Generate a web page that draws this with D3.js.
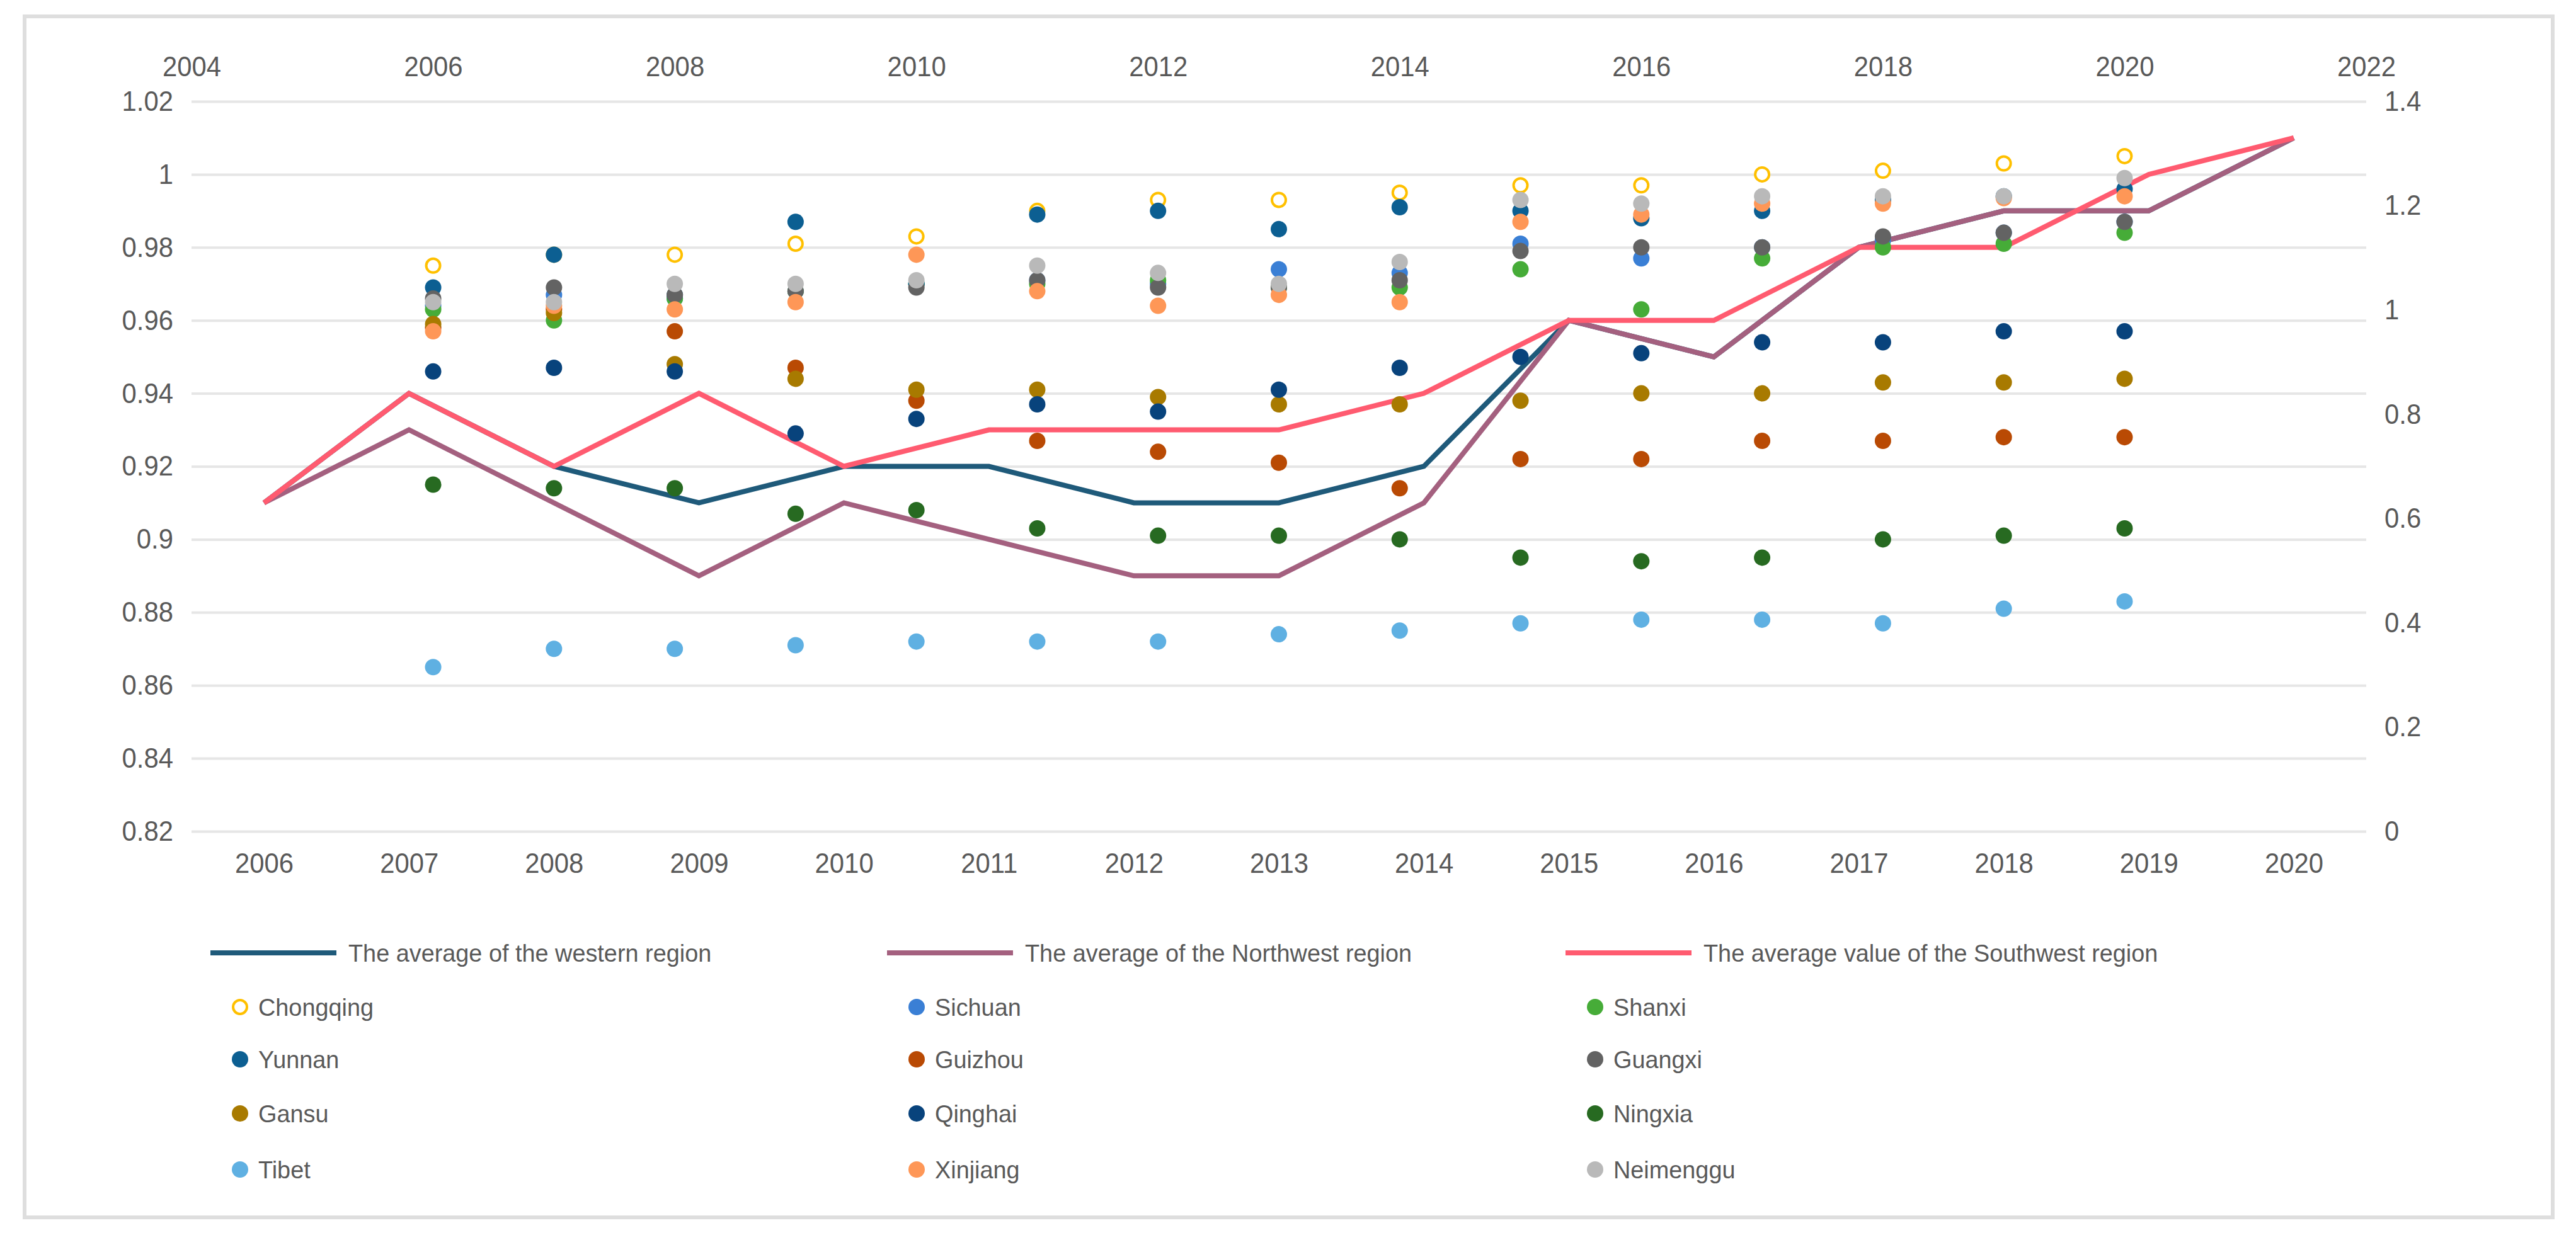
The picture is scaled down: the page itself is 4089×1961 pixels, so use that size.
<!DOCTYPE html>
<html>
<head>
<meta charset="utf-8">
<script src="https://cdn.jsdelivr.net/npm/d3@7/dist/d3.min.js"></script>
<style>
  body { margin: 0; background: #fff; }
  text { font-family: "Liberation Sans", Arial, sans-serif; fill: #595959; }
</style>
</head>
<body>
<div id="viz"></div>
<script>
// categories (bottom axis) and scatter years (top axis)
var years = [2006, 2007, 2008, 2009, 2010, 2011, 2012, 2013, 2014, 2015, 2016, 2017, 2018, 2019, 2020];
var leftTicks = [0.82, 0.84, 0.86, 0.88, 0.9, 0.92, 0.94, 0.96, 0.98, 1, 1.02];
var rightTicks = [0, 0.2, 0.4, 0.6, 0.8, 1, 1.2, 1.4];
var topTicks = [2004, 2006, 2008, 2010, 2012, 2014, 2016, 2018, 2020, 2022];

// regional averages (lines, left axis)
var westernAvg   = [0.91, 0.94, 0.92, 0.91, 0.92, 0.92, 0.91, 0.91, 0.92, 0.96, 0.95, 0.98, 0.99, 0.99, 1.01];
var northwestAvg = [0.91, 0.93, 0.91, 0.89, 0.91, 0.90, 0.89, 0.89, 0.91, 0.96, 0.95, 0.98, 0.99, 0.99, 1.01];
var southwestAvg = [0.91, 0.94, 0.92, 0.94, 0.92, 0.93, 0.93, 0.93, 0.94, 0.96, 0.96, 0.98, 0.98, 1.00, 1.01];

// provinces (scatter)
var chongqing = [0.975, 0.978, 0.978, 0.981, 0.983, 0.990, 0.993, 0.993, 0.995, 0.997, 0.997, 1.000, 1.001, 1.003, 1.005];
var sichuan   = [0.964, 0.967, 0.966, 0.968, 0.970, 0.971, 0.970, 0.974, 0.973, 0.981, 0.977, 0.980, 0.982, 0.984, 0.987];
var shanxi    = [0.963, 0.960, 0.966, 0.968, 0.970, 0.970, 0.971, 0.969, 0.969, 0.974, 0.963, 0.977, 0.980, 0.981, 0.984];
var yunnan    = [0.969, 0.978, 0.967, 0.987, 0.970, 0.989, 0.990, 0.985, 0.991, 0.990, 0.988, 0.990, 0.993, 0.994, 0.996];
var guizhou   = [0.958, 0.963, 0.957, 0.947, 0.938, 0.927, 0.924, 0.921, 0.914, 0.922, 0.922, 0.927, 0.927, 0.928, 0.928];
var guangxi   = [0.966, 0.969, 0.967, 0.968, 0.969, 0.971, 0.969, 0.969, 0.971, 0.979, 0.980, 0.980, 0.983, 0.984, 0.987];
var gansu     = [0.959, 0.962, 0.948, 0.944, 0.941, 0.941, 0.939, 0.937, 0.937, 0.938, 0.940, 0.940, 0.943, 0.943, 0.944];
var qinghai   = [0.946, 0.947, 0.946, 0.929, 0.933, 0.937, 0.935, 0.941, 0.947, 0.950, 0.951, 0.954, 0.954, 0.957, 0.957];
var ningxia   = [0.915, 0.914, 0.914, 0.907, 0.908, 0.903, 0.901, 0.901, 0.900, 0.895, 0.894, 0.895, 0.900, 0.901, 0.903];
var tibet     = [0.865, 0.870, 0.870, 0.871, 0.872, 0.872, 0.872, 0.874, 0.875, 0.877, 0.878, 0.878, 0.877, 0.881, 0.883];
var xinjiang  = [0.957, 0.964, 0.963, 0.965, 0.978, 0.968, 0.964, 0.967, 0.965, 0.987, 0.989, 0.992, 0.992, 0.9935, 0.994];
var neimenggu = [0.965, 0.965, 0.970, 0.970, 0.971, 0.975, 0.973, 0.970, 0.976, 0.993, 0.992, 0.994, 0.994, 0.994, 0.999];

var lineSeries = [
  { name: "The average of the western region", values: westernAvg, color: "#1f5a7a" },
  { name: "The average of the Northwest region", values: northwestAvg, color: "#a4607f" },
  { name: "The average value of the Southwest region", values: southwestAvg, color: "#ff5b70" }
];
var dotSeries = [
  { name: "Chongqing", values: chongqing, color: "#ffc000", hollow: true },
  { name: "Sichuan", values: sichuan, color: "#3a7fd5" },
  { name: "Shanxi", values: shanxi, color: "#46ac38" },
  { name: "Yunnan", values: yunnan, color: "#0c5f92" },
  { name: "Guizhou", values: guizhou, color: "#b94a04" },
  { name: "Guangxi", values: guangxi, color: "#636363" },
  { name: "Gansu", values: gansu, color: "#a87a00" },
  { name: "Qinghai", values: qinghai, color: "#08437c" },
  { name: "Ningxia", values: ningxia, color: "#276a21" },
  { name: "Tibet", values: tibet, color: "#5fb0e2" },
  { name: "Xinjiang", values: xinjiang, color: "#fe9757" },
  { name: "Neimenggu", values: neimenggu, color: "#b9b9b9" }
];

(function () {
  var W = 4089, H = 1961;
  var plotL = 304, plotR = 3756, plotT = 161, plotB = 1320;

  var svg = d3.select("#viz").append("svg")
    .attr("width", W).attr("height", H);

  svg.append("rect").attr("width", W).attr("height", H).attr("fill", "#fff");
  svg.append("rect")
    .attr("x", 39).attr("y", 26).attr("width", 4013).attr("height", 1907)
    .attr("fill", "none").attr("stroke", "#dedede").attr("stroke-width", 6);

  var xCat = d3.scalePoint().domain(years).range([plotL, plotR]).padding(0.5);
  var xTop = d3.scaleLinear().domain([2004, 2022]).range([plotL, plotR]);
  var yLeft = d3.scaleLinear().domain([0.82, 1.02]).range([plotB, plotT]);
  var yRight = d3.scaleLinear().domain([0, 1.4]).range([plotB, plotT]);

  function fmt(d) { return String(+d.toFixed(2)); }

  function squeeze(sel, k) {
    sel.each(function () {
      var w = this.getComputedTextLength();
      d3.select(this).attr("textLength", w * k).attr("lengthAdjust", "spacingAndGlyphs");
    });
  }

  // gridlines + left axis
  var gLeft = svg.append("g").attr("transform", "translate(" + plotL + ",0)")
    .call(d3.axisLeft(yLeft).tickValues(leftTicks).tickFormat(fmt)
      .tickSize(-(plotR - plotL)).tickPadding(29));
  gLeft.select(".domain").remove();
  gLeft.selectAll(".tick line").attr("stroke", "#e6e6e6").attr("stroke-width", 4);

  // right axis labels
  var gRight = svg.append("g").attr("transform", "translate(" + plotR + ",0)")
    .call(d3.axisRight(yRight).tickValues(rightTicks).tickFormat(fmt).tickSize(0).tickPadding(29));
  gRight.select(".domain").remove();

  // bottom category axis
  var gBottom = svg.append("g").attr("transform", "translate(0," + plotB + ")")
    .call(d3.axisBottom(xCat).tickSize(0).tickPadding(34));
  gBottom.select(".domain").remove();

  // top axis
  var gTop = svg.append("g").attr("transform", "translate(0," + plotT + ")")
    .call(d3.axisTop(xTop).tickValues(topTicks).tickFormat(d3.format("d")).tickSize(0).tickPadding(40));
  gTop.select(".domain").remove();

  svg.selectAll(".tick text")
    .attr("font-size", 45)
    .attr("fill", "#595959")
    .attr("font-family", "'Liberation Sans', Arial, sans-serif")
    .call(squeeze, 0.93);

  // lines
  var line = d3.line()
    .x(function (d, i) { return xCat(years[i]); })
    .y(function (d) { return yLeft(d); });

  svg.append("g").selectAll("path")
    .data(lineSeries).enter().append("path")
    .attr("d", function (s) { return line(s.values); })
    .attr("fill", "none")
    .attr("stroke", function (s) { return s.color; })
    .attr("stroke-width", 8)
    .attr("stroke-linejoin", "miter");

  // scatter points
  var groups = svg.append("g").selectAll("g.series")
    .data(dotSeries).enter().append("g").attr("class", "series");

  groups.selectAll("circle")
    .data(function (s) { return s.values.map(function (v, i) { return { v: v, year: years[i], s: s }; }); })
    .enter().append("circle")
    .attr("cx", function (d) { return xTop(d.year); })
    .attr("cy", function (d) { return yLeft(d.v); })
    .attr("r", function (d) { return d.s.hollow ? 11 : 13; })
    .attr("fill", function (d) { return d.s.hollow ? "#fff" : d.s.color; })
    .attr("stroke", function (d) { return d.s.hollow ? d.s.color : "none"; })
    .attr("stroke-width", 4);

  // legend
  var colX = [334, 1408, 2485];
  var rowY = [1513, 1599, 1682, 1768, 1857];
  var legendItems = lineSeries.map(function (s) { return { s: s, type: "line" }; })
    .concat(dotSeries.map(function (s) { return { s: s, type: "dot" }; }));

  var leg = svg.append("g").selectAll("g")
    .data(legendItems).enter().append("g")
    .attr("transform", function (d, i) {
      return "translate(" + colX[i % 3] + "," + rowY[Math.floor(i / 3)] + ")";
    });

  leg.filter(function (d) { return d.type === "line"; })
    .append("line")
    .attr("x1", 0).attr("x2", 200).attr("y1", 0).attr("y2", 0)
    .attr("stroke", function (d) { return d.s.color; })
    .attr("stroke-width", 8);

  leg.filter(function (d) { return d.type === "dot"; })
    .append("circle")
    .attr("cx", 47).attr("cy", 0)
    .attr("r", function (d) { return d.s.hollow ? 11 : 13; })
    .attr("fill", function (d) { return d.s.hollow ? "#fff" : d.s.color; })
    .attr("stroke", function (d) { return d.s.hollow ? d.s.color : "none"; })
    .attr("stroke-width", 4);

  leg.append("text")
    .attr("x", function (d) { return d.type === "line" ? 219 : 76; })
    .attr("y", 0)
    .attr("dy", "0.35em")
    .attr("font-size", 39)
    .text(function (d) { return d.s.name; })
    .call(squeeze, 0.97);
})();
</script>
</body>
</html>
